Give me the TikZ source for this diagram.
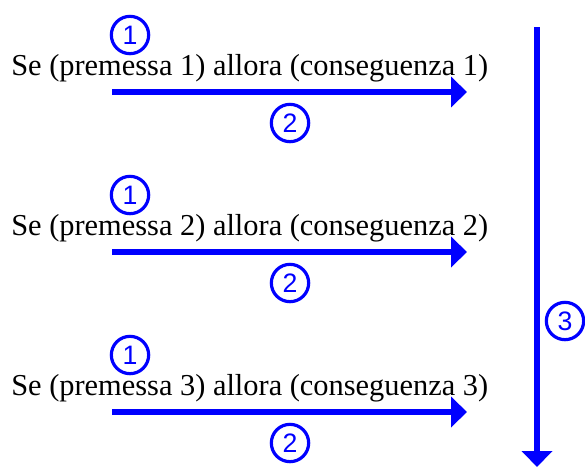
\documentclass[tikz,border=0pt]{standalone}
\usepackage{fontspec}
\setmainfont{Liberation Serif}
\newfontfamily\numfont{Liberation Sans}
\usetikzlibrary{arrows.meta}
\definecolor{pureblue}{RGB}{0,0,255}
\begin{document}
\begin{tikzpicture}[x=0.75pt,y=-0.75pt,
  rowtext/.style={anchor=base west,inner sep=0pt,font=\fontsize{22.8}{27}\selectfont},
  numcirc/.style={circle,draw=pureblue,line width=2.4pt,minimum size=28pt,inner sep=0pt,
    text=pureblue,font=\numfont\fontsize{20}{20}\selectfont},
  bigarrow/.style={draw=pureblue,line width=4.5pt,-{Triangle[length=12pt,width=22.5pt]}}]
\useasboundingbox[fill=white] (0,0) rectangle (585,468);
\foreach \k/\n in {0/1,1/2,2/3}{
  \node[rowtext] (t\n) at (11,{75+160*\k}) {Se (premessa \n) allora (conseguenza \n)};
  \node[numcirc] (c\n a) at (130,{35+160*\k}) {1};
  \node[numcirc] (c\n b) at (290,{123+160*\k}) {2};
  \coordinate (s\n) at (112,{92+160*\k});
  \coordinate (e\n) at (467,{92+160*\k});
  \draw[bigarrow] (s\n) -- (e\n);
}
\coordinate (vs) at (537,27);
\coordinate (ve) at (537,467);
\draw[bigarrow] (vs) -- (ve);
\node[numcirc] (c3c) at (565,321) {3};
\end{tikzpicture}
\end{document}
